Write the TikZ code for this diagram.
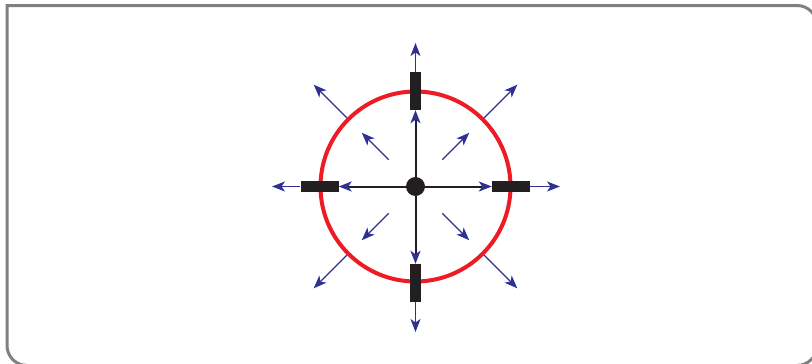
\documentclass[tikz,border=0pt]{standalone}
\usetikzlibrary{arrows.meta,calc}
\definecolor{navy}{RGB}{46,49,146}
\definecolor{redc}{RGB}{237,28,36}
\definecolor{blk}{RGB}{35,31,32}
\definecolor{framegray}{RGB}{128,128,128}
\begin{document}
\begin{tikzpicture}[x=1pt,y=-1pt,
  navytip/.style={-{Stealth[length=13pt,width=10pt,inset=3.5pt,color=navy]}},
  bluearrow/.style={navytip, draw=navy, line width=1.2pt},
  spoke/.style={navytip, draw=blk, line width=2pt},
  hbar/.style={rectangle, fill=blk, minimum width=38pt, minimum height=10.5pt, inner sep=0pt},
  vbar/.style={rectangle, fill=blk, minimum width=10.5pt, minimum height=38pt, inner sep=0pt},
  ring/.style={circle, draw=redc, line width=4pt, minimum size=190pt, inner sep=0pt},
  hub/.style={circle, fill=blk, minimum size=19pt, inner sep=0pt},
]
\useasboundingbox (0,0) rectangle (812,364);
\clip (0,0) rectangle (812,364);
% frame
\draw[framegray, line width=3pt, rounded corners=20pt, line cap=rect]
  (7,5.5) -- (817,5.5) -- (817,365.5) -- (7,365.5) -- (7,5.5);
% centre and ring
\coordinate (c) at (415.5,186.5);
\node[ring] (r) at (c) {};
% bars
\node[vbar] (tb) at (415.5,91) {};
\node[vbar] (bb) at (415.5,283) {};
\node[hbar] (lb) at (319.5,186.5) {};
\node[hbar] (rb) at (511,186.5) {};
% spokes
\draw[spoke] (c) -- (tb.south);
\draw[spoke] (c) -- (bb.north);
\draw[spoke] (c) -- (lb.east);
\draw[spoke] (c) -- (rb.west);
\node[hub] (h) at (c) {};
% outer straight arrows
\coordinate (to) at (415.5,43);
\coordinate (bo) at (415.5,332);
\coordinate (lo) at (272,186.5);
\coordinate (ro) at (560,186.5);
\draw[bluearrow] (tb.north) -- (to);
\draw[bluearrow] (bb.south) -- (bo);
\draw[bluearrow] (lb.west) -- (lo);
\draw[bluearrow] (rb.east) -- (ro);
% diagonal arrows
\foreach \a/\n in {45/ne,135/nw,225/sw,315/se}{
  \coordinate (o1\n) at ($(c)+(\a:97)$);
  \coordinate (o2\n) at ($(c)+(\a:144)$);
  \coordinate (i1\n) at ($(c)+(\a:38)$);
  \coordinate (i2\n) at ($(c)+(\a:76)$);
  \draw[bluearrow] (o1\n) -- (o2\n);
  \draw[bluearrow] (i1\n) -- (i2\n);
}
\end{tikzpicture}
\end{document}
